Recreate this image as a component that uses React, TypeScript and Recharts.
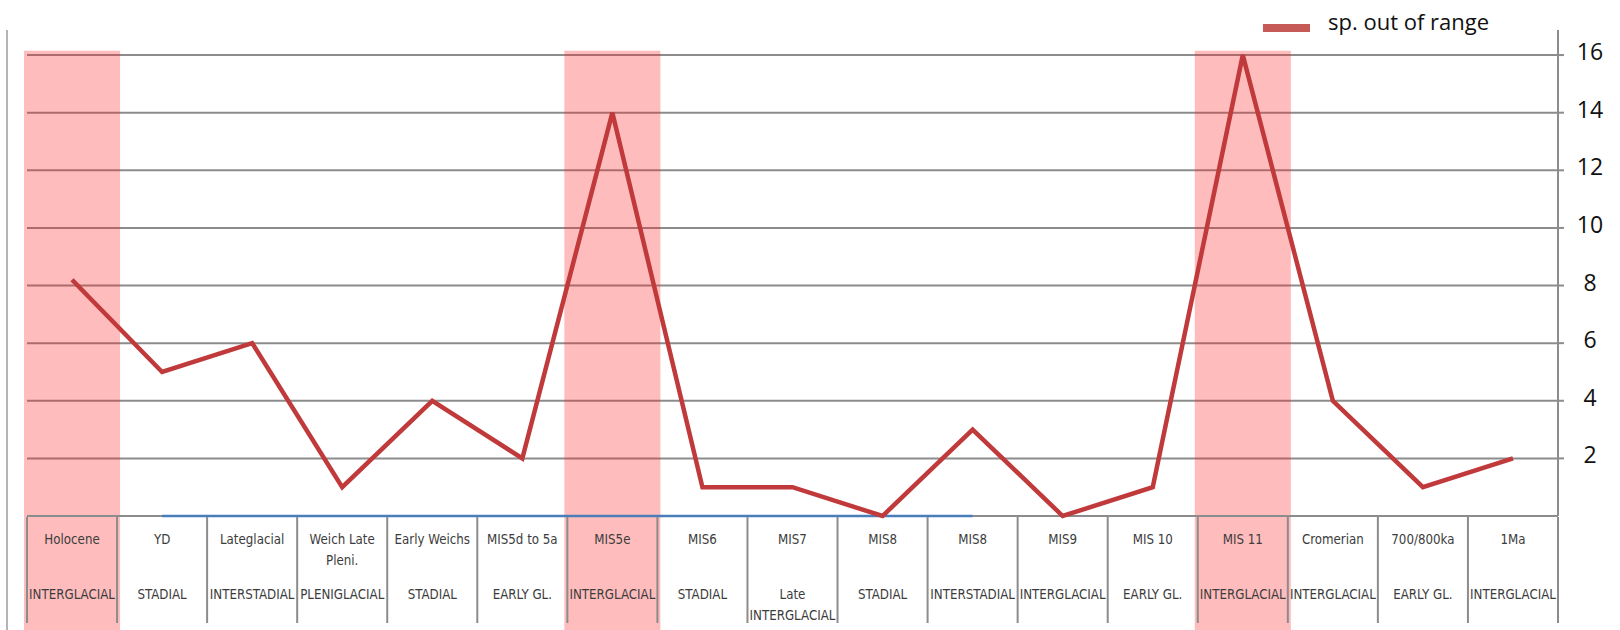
import { LineChart, Line, XAxis, YAxis, CartesianGrid, ReferenceArea, Legend } from "recharts";

// climate stages along the bottom table (top row / bottom row)
const stages = [
  "Holocene",
  "YD",
  "Lateglacial",
  "Weich Late\nPleni.",
  "Early Weichs",
  "MIS5d to 5a",
  "MIS5e",
  "MIS6",
  "MIS7",
  "MIS8",
  "MIS8",
  "MIS9",
  "MIS 10",
  "MIS 11",
  "Cromerian",
  "700/800ka",
  "1Ma",
];
const phases = [
  "INTERGLACIAL",
  "STADIAL",
  "INTERSTADIAL",
  "PLENIGLACIAL",
  "STADIAL",
  "EARLY GL.",
  "INTERGLACIAL",
  "STADIAL",
  "Late\nINTERGLACIAL",
  "STADIAL",
  "INTERSTADIAL",
  "INTERGLACIAL",
  "EARLY GL.",
  "INTERGLACIAL",
  "INTERGLACIAL",
  "EARLY GL.",
  "INTERGLACIAL",
];
const outOfRange = [8.2, 5, 6, 1, 4, 2, 14, 1, 1, 0, 3, 0, 1, 16, 4, 1, 2];
// second (unnamed) series, only visible as the blue stretch on the zero line
const baseline = [null, 0, 0, 0, 0, 0, 0, 0, 0, 0, 0, null, null, null, null, null, null];
const highlighted = [0, 6, 13];
const yTicks = [2, 4, 6, 8, 10, 12, 14, 16];

const W = 1620;
const H = 630;
const GRAY = "#8c8c8c";
const RED = "#c0393b";
const PINK = "#ff2020";
const X_AXIS_H = 114;
const Y_AXIS_W = 62;
const LEFT = 27;
const BAND = (W - LEFT - Y_AXIS_W) / stages.length;

const data = stages.map((s, i) => ({
  period: `${s}|${phases[i]}`,
  outOfRange: outOfRange[i],
  baseline: baseline[i],
}));

function PeriodTick(props: any) {
  const { x, y, payload, index } = props;
  const half = payload.offset || BAND / 2;
  const [stage, phase] = String(payload.value).split("|");
  const top = stage.split("\n");
  const bottom = phase.split("\n");
  const font = "'Liberation Sans Narrow', 'DejaVu Sans Condensed', 'Open Sans', sans-serif";
  return (
    <g>
      <line x1={x - half} x2={x - half} y1={y + 1} y2={y + 107} stroke={GRAY} strokeWidth={2} />
      {index === stages.length - 1 && (
        <line x1={x + half} x2={x + half} y1={y + 1} y2={y + 107} stroke={GRAY} strokeWidth={2} />
      )}
      <text textAnchor="middle" fontSize={13.2} fill="#3c3c3c" fontFamily={font}>
        {top.map((t, i) => (
          <tspan key={i} x={x} y={y + 28 + i * 21}>
            {t}
          </tspan>
        ))}
      </text>
      <text textAnchor="middle" fontSize={13.2} fill="#3c3c3c" fontFamily={font}>
        {bottom.map((t, i) => (
          <tspan key={i} x={x} y={y + 83 + i * 21}>
            {t}
          </tspan>
        ))}
      </text>
    </g>
  );
}

function ValueTick(props: any) {
  const { x, y, payload } = props;
  return (
    <text x={x + 24} y={y + 5} textAnchor="middle" fontSize={23} fill="#111">
      {payload.value}
    </text>
  );
}

function LegendContent(props: any) {
  const items = (props.payload || []).filter((p: any) => p.type !== "none");
  return (
    <div style={{ display: "flex", alignItems: "flex-start", lineHeight: "30px" }}>
      {items.map((p: any) => (
        <div key={p.value} style={{ display: "flex", alignItems: "flex-start" }}>
          <span
            style={{
              display: "inline-block",
              width: 47,
              height: 8,
              marginTop: 18,
              marginRight: 18,
              background: "#c55a56",
            }}
          />
          <span style={{ fontSize: 22, color: "#111" }}>{p.value}</span>
        </div>
      ))}
    </div>
  );
}

function PinkBand(props: any) {
  const { x, y, width } = props;
  return <rect x={x - 3} y={y} width={width + 6} height={H - y} fill={PINK} fillOpacity={0.3} />;
}

export default function App() {
  return (
    <div
      style={{
        position: "absolute",
        left: 0,
        top: 0,
        width: W,
        height: H,
        background: "#fff",
        fontFamily: "'Open Sans', sans-serif",
      }}
    >
      <div style={{ position: "absolute", left: 6, top: 30, width: 2, height: H - 30, background: "#b4b4b4" }} />
      <LineChart width={W} height={H} data={data} margin={{ top: 30, right: 0, bottom: 0, left: LEFT }}>
        <CartesianGrid vertical={false} horizontalValues={yTicks} stroke={GRAY} strokeWidth={2} />
        <XAxis
          dataKey="period"
          scale="band"
          interval={0}
          height={X_AXIS_H}
          tickLine={false}
          tickSize={0}
          tickMargin={0}
          axisLine={{ stroke: GRAY, strokeWidth: 2 }}
          tick={<PeriodTick />}
        />
        <YAxis
          orientation="right"
          width={Y_AXIS_W}
          domain={[0, 16.87]}
          ticks={yTicks}
          tickSize={6}
          tickMargin={2}
          axisLine={{ stroke: GRAY, strokeWidth: 2 }}
          tickLine={{ stroke: GRAY, strokeWidth: 2 }}
          tick={<ValueTick />}
        />
        <Line
          dataKey="baseline"
          stroke="#4a7ebb"
          strokeWidth={2.5}
          dot={false}
          legendType="none"
          zIndex={700}
          isAnimationActive={false}
        />
        <Line
          dataKey="outOfRange"
          name="sp. out of range"
          stroke={RED}
          strokeWidth={4.5}
          strokeLinejoin="miter"
          dot={false}
          zIndex={750}
          isAnimationActive={false}
        />
        {highlighted.map((i) => (
          <ReferenceArea
            key={i}
            x1={data[i].period}
            x2={data[i].period}
            y1={0}
            y2={16.15}
            ifOverflow="visible"
            shape={<PinkBand />}
          />
        ))}
        <Legend
          layout="vertical"
          align="center"
          verticalAlign="middle"
          wrapperStyle={{ top: 6, left: 1263, width: 320 }}
          content={<LegendContent />}
        />
      </LineChart>
    </div>
  );
}
